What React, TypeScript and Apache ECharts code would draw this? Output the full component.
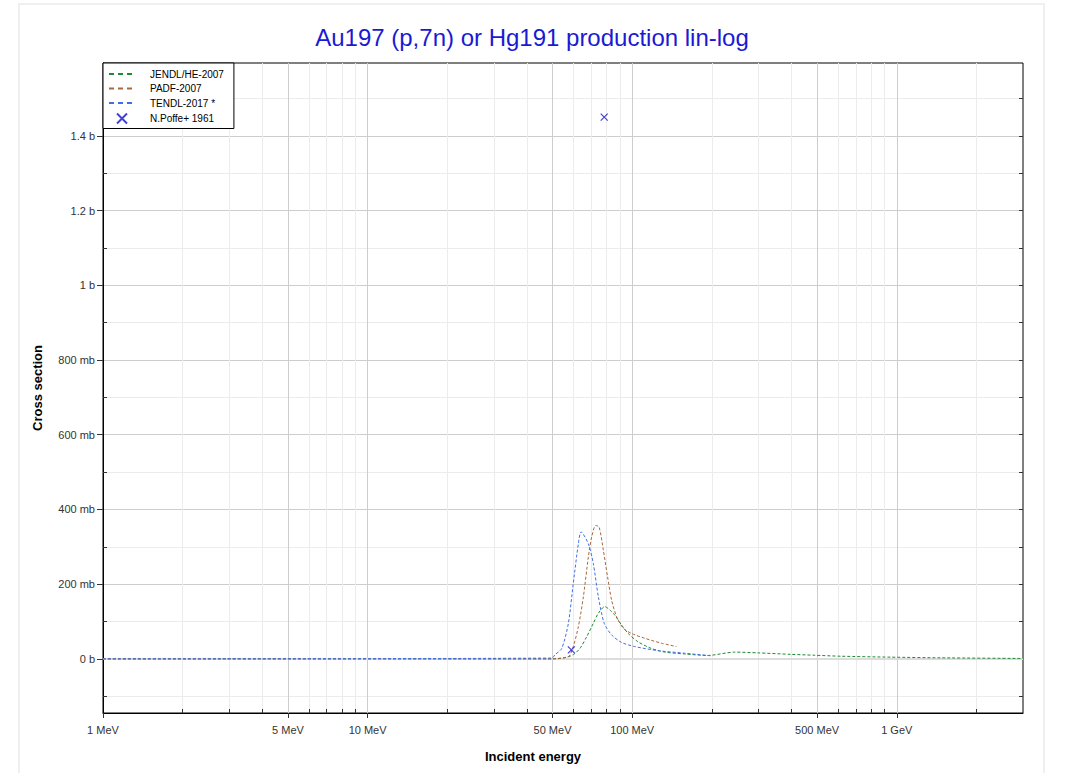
import React, { useEffect, useRef } from "react";
import * as echarts from "echarts";

// ---- data (energy in MeV, cross section in mb) ----
const jendlEnergy = [1, 50, 56.6, 59.9, 63.5, 67.3, 71.3, 74.5, 78.8, 82.3, 86.0, 91.1, 96.6, 105, 118, 133, 158, 193, 244, 298, 398, 487, 614, 948, 1462, 3000];
const jendlXs = [0, 0, 4.5, 11, 28, 59, 95, 122, 140, 131, 117, 91, 68, 46, 28, 18, 13, 9, 18, 16, 12, 9.7, 7, 4.5, 2.7, 1];

const padfEnergy = [1, 50, 57.4, 59.9, 62.6, 65.4, 68.3, 70.3, 72.7, 75.0, 77.8, 80.7, 83.6, 87.3, 92.5, 99.4, 111.6, 128.8, 147];
const padfXs = [0, 0, 6, 33, 86, 166, 273, 326, 357, 353, 291, 220, 157, 113, 82, 68, 55, 42, 33];

const tendlEnergy = [1, 49.7, 51.1, 54.2, 57.4, 59.9, 62.6, 64.1, 68.3, 71.3, 74.5, 78.4, 83.6, 91.1, 102, 125, 158, 200];
const tendlXs = [0, 2, 11, 28, 95, 202, 308, 340, 308, 255, 166, 95, 64, 44, 33, 22, 15, 8];

const poffeEnergy = [58.9, 78.4];
const poffeXs = [24, 1450];

// ---- axes / ticks ----
const xMajorEnergy = [1, 5, 10, 50, 100, 500, 1000];
const xMajorLabels = ["1 MeV", "5 MeV", "10 MeV", "50 MeV", "100 MeV", "500 MeV", "1 GeV"];
const xMinorEnergy = [2, 3, 4, 6, 7, 8, 9, 20, 30, 40, 60, 70, 80, 90, 200, 300, 400, 600, 700, 800, 900, 2000];
const yMajor = [0, 200, 400, 600, 800, 1000, 1200, 1400];
const yMinor = [-100, 100, 300, 500, 700, 900, 1100, 1300, 1500];
const X_MIN = 1;
const X_MAX = 3000;
const Y_MIN = -145;
const Y_MAX = 1595;

const seriesNames = ["JENDL/HE-2007", "PADF-2007", "TENDL-2017 *", "N.Poffe+ 1961"];
const seriesColors = ["#1f8a35", "#a8683a", "#3f6fe6", "#1414c8"];

const FONT = "'Liberation Sans', Arial, Helvetica, sans-serif";

const zip = (a: number[], b: number[]) => a.map((v, i) => [v, b[i]]);

function yFmt(v: number): string {
  if (v === 0) return "0 b";
  if (Math.abs(v) < 1000) return v + " mb";
  return v / 1000 + " b";
}

function xFmt(v: number): string {
  const i = xMajorEnergy.findIndex((e) => Math.abs(Math.log10(e) - v) < 1e-6);
  return i >= 0 ? xMajorLabels[i] : "";
}

export default function App() {
  const ref = useRef<HTMLDivElement>(null);

  useEffect(() => {
    if (!ref.current) return;
    const chart = echarts.init(ref.current, undefined, { renderer: "svg" });
    const lgMin = Math.log10(X_MIN);
    const lgMax = Math.log10(X_MAX);
    const tickColor = "#333";

    const lineSeries = (idx: number, e: number[], s: number[]) => ({
      name: seriesNames[idx],
      type: "line",
      xAxisIndex: 0,
      yAxisIndex: 0,
      data: zip(e, s),
      symbol: "none",
      showSymbol: false,
      smooth: 0.25,
      z: 3,
      lineStyle: { color: seriesColors[idx], width: 1, type: [3, 2] },
      itemStyle: { color: seriesColors[idx] },
    });

    const option: any = {
      animation: false,
      textStyle: { fontFamily: FONT },
      title: {
        text: "Au197 (p,7n) or Hg191 production lin-log",
        left: 527,
        top: 20,
        textAlign: "center",
        textStyle: { color: "#1a1ad2", fontSize: 24, fontWeight: "normal", fontFamily: FONT },
      },
      legend: {
        data: [
          { name: seriesNames[0], itemStyle: { opacity: 0 } },
          { name: seriesNames[1], itemStyle: { opacity: 0 } },
          { name: seriesNames[2], itemStyle: { opacity: 0 } },
          { name: seriesNames[3] },
        ],
        orient: "vertical",
        left: 103,
        top: 63,
        backgroundColor: "#fff",
        borderColor: "#000",
        borderWidth: 1,
        borderRadius: 0,
        padding: [6, 10, 4, 5],
        itemGap: 4.5,
        itemWidth: 26,
        itemHeight: 10,
        lineStyle: { width: 2, type: [5, 4] },
        textStyle: { fontSize: 10, color: "#000", fontFamily: FONT, padding: [0, 0, 0, 10] },
      },
      grid: {
        left: 103,
        top: 63,
        width: 920,
        height: 650,
        show: true,
        borderColor: "#000",
        borderWidth: 1,
        containLabel: false,
      },
      xAxis: [
        {
          type: "log",
          logBase: 10,
          min: X_MIN,
          max: X_MAX,
          position: "bottom",
          axisLine: { show: false, onZero: false },
          axisTick: { show: false },
          axisLabel: { show: false },
          splitLine: { show: false },
          minorTick: { show: false },
          minorSplitLine: { show: false },
        },
        {
          type: "value",
          min: lgMin,
          max: lgMax,
          position: "bottom",
          axisLine: { show: true, onZero: false, lineStyle: { color: "#000", width: 1 } },
          axisTick: { show: true, customValues: xMajorEnergy.map(Math.log10), length: 5, lineStyle: { color: tickColor } },
          axisLabel: {
            customValues: xMajorEnergy.map(Math.log10),
            formatter: xFmt,
            fontSize: 11,
            color: "#333",
            margin: 11,
            fontFamily: FONT,
          },
          splitLine: { show: true, lineStyle: { color: "#cdcdcd", width: 1 } },
          name: "Incident energy",
          nameLocation: "middle",
          nameGap: 37,
          nameTextStyle: { fontSize: 13, fontWeight: "bold", color: "#000", padding: [0, 60, 0, 0], fontFamily: FONT },
        },
        {
          type: "value",
          min: lgMin,
          max: lgMax,
          position: "bottom",
          axisLine: { show: false, onZero: false },
          axisTick: { show: true, inside: true, customValues: xMinorEnergy.map(Math.log10), length: 4, lineStyle: { color: tickColor } },
          axisLabel: { show: false },
          splitLine: { show: true, lineStyle: { color: "#ececec", width: 1 } },
        },
      ],
      yAxis: [
        {
          type: "value",
          min: Y_MIN,
          max: Y_MAX,
          position: "left",
          axisLine: { show: true, onZero: false, lineStyle: { color: "#000", width: 1 } },
          axisTick: { show: true, customValues: yMajor, length: 6, lineStyle: { color: tickColor } },
          axisLabel: { customValues: yMajor, formatter: yFmt, fontSize: 11, color: "#333", margin: 8, fontFamily: FONT },
          splitLine: { show: true, lineStyle: { color: "#cdcdcd", width: 1 } },
          name: "Cross section",
          nameLocation: "middle",
          nameGap: 59,
          nameTextStyle: { fontSize: 13, fontWeight: "bold", color: "#000", fontFamily: FONT },
        },
        {
          type: "value",
          min: Y_MIN,
          max: Y_MAX,
          position: "left",
          axisLine: { show: false, onZero: false },
          axisTick: { show: true, inside: true, customValues: yMinor, length: 4, lineStyle: { color: tickColor } },
          axisLabel: { show: false },
          splitLine: { show: true, lineStyle: { color: "#ececec", width: 1 } },
        },
        {
          type: "value",
          min: Y_MIN,
          max: Y_MAX,
          position: "right",
          axisLine: { show: false, onZero: false },
          axisTick: { show: true, inside: true, customValues: [...yMinor, ...yMajor], length: 4, lineStyle: { color: tickColor } },
          axisLabel: { show: false },
          splitLine: { show: false },
        },
      ],
      series: [
        {
          name: "zero",
          type: "line",
          xAxisIndex: 0,
          yAxisIndex: 0,
          data: [],
          silent: true,
          z: 1,
          markLine: {
            silent: true,
            z: 1,
            symbol: "none",
            label: { show: false },
            lineStyle: { color: "#dcdcdc", width: 2, type: "solid" },
            data: [{ yAxis: 0 }],
          },
        },
        lineSeries(0, jendlEnergy, jendlXs),
        lineSeries(1, padfEnergy, padfXs),
        lineSeries(2, tendlEnergy, tendlXs),
        {
          name: seriesNames[3],
          type: "scatter",
          xAxisIndex: 0,
          yAxisIndex: 0,
          data: zip(poffeEnergy, poffeXs),
          symbol: "path://M0,0L10,10M0,10L10,0",
          symbolSize: 7,
          z: 5,
          itemStyle: { color: "rgba(0,0,0,0)", borderColor: seriesColors[3], borderWidth: 1.2 },
        },
      ],
    };

    chart.setOption(option);
    return () => chart.dispose();
  }, []);

  return (
    <div style={{ position: "absolute", left: 0, top: 0, width: 1071, height: 773, background: "#fff", overflow: "hidden" }}>
      <div
        style={{
          position: "absolute",
          left: 18,
          top: 3,
          width: 1027,
          height: 820,
          border: "2px solid #efefef",
          boxSizing: "border-box",
        }}
      />
      <div ref={ref} style={{ position: "absolute", left: 0, top: 0, width: 1071, height: 773 }} />
    </div>
  );
}
